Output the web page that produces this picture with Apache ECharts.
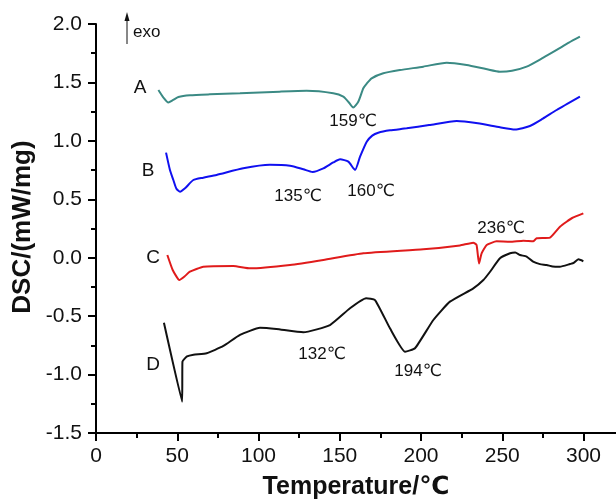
<!DOCTYPE html>
<html>
<head>
<meta charset="utf-8">
<script src="https://cdn.jsdelivr.net/npm/echarts@6/dist/echarts.min.js"></script>
<style>html,body{margin:0;padding:0;background:#fff}#c{width:616px;height:500px}</style>
</head>
<body>
<div id="c"></div>
<script>
// Data (temperature in °C, DSC in mW/mg)
var curveA = [[38.4,1.435],[41.5,1.37],[44.5,1.328],[47.5,1.35],[50.7,1.375],[57.8,1.39],[70,1.398],[88.6,1.407],[113,1.421],[129.6,1.428],[146,1.407],[152.2,1.378],[155.5,1.33],[158.3,1.285],[161.4,1.335],[164.5,1.45],[166.6,1.49],[169.6,1.535],[176.8,1.578],[187,1.606],[201.4,1.635],[215.8,1.669],[228.1,1.649],[240,1.615],[248.6,1.592],[256,1.6],[265,1.635],[275,1.71],[283.5,1.778],[291,1.84],[297.8,1.891]];
var curveB = [[43.1,0.899],[45.5,0.751],[47.6,0.665],[49.5,0.59],[51.7,0.565],[54.8,0.594],[59.9,0.665],[66,0.685],[74.2,0.708],[90.6,0.765],[107,0.795],[119.4,0.787],[127.6,0.757],[133.3,0.734],[139.9,0.765],[146,0.815],[150.2,0.842],[155.3,0.822],[159.4,0.751],[162.5,0.865],[166.6,0.993],[170,1.045],[173.7,1.07],[180.9,1.09],[191.2,1.107],[205,1.135],[222,1.17],[235,1.15],[248.6,1.116],[257.8,1.097],[267,1.127],[275,1.19],[283.5,1.264],[297.8,1.378]];
var curveC = [[43.9,0.023],[47.2,-0.105],[51.3,-0.191],[54.5,-0.16],[57.8,-0.12],[66,-0.077],[84.5,-0.071],[94.8,-0.091],[119.4,-0.062],[139.9,-0.019],[164.5,0.038],[201.4,0.072],[224,0.105],[232.2,0.129],[234.2,0.109],[235.7,-0.05],[237.3,0.038],[240.4,0.109],[246.5,0.14],[254.8,0.137],[263,0.146],[269,0.14],[271.2,0.166],[279.4,0.172],[285.5,0.265],[289.6,0.308],[293,0.34],[299.9,0.38]];
var curveD = [[41.8,-0.556],[53.0,-1.232],[53.2,-0.889],[56,-0.845],[60,-0.83],[68.1,-0.818],[78.4,-0.755],[88.6,-0.661],[100.9,-0.6],[111,-0.61],[127.6,-0.638],[144,-0.576],[156.3,-0.433],[166.2,-0.347],[171.7,-0.362],[180.9,-0.604],[190.2,-0.804],[196.3,-0.775],[207.6,-0.533],[217.8,-0.376],[232.2,-0.262],[238.4,-0.191],[242.5,-0.12],[248.6,-0.005],[254.8,0.038],[258,0.045],[261,0.023],[265,0.01],[269,-0.034],[273.2,-0.055],[277.3,-0.062],[281,-0.075],[285.5,-0.077],[291.7,-0.054],[294,-0.045],[296.8,-0.014],[299.9,-0.03]];
var xMajor = [0,50,100,150,200,250,300];
var xMinor = [25,75,125,175,225,275];
var curveNames = ['A','B','C','D'];
var peakLabels = ['159℃','135℃','160℃','236℃','132℃','194℃'];

var chart = echarts.init(document.getElementById('c'), null, {renderer:'canvas'});
var txt = '#111';
function lineSeries(name, data, color, sm){
  return {name:name, type:'line', data:data, showSymbol:false, symbol:'none',
    smooth:sm, lineStyle:{color:color, width:2}, z:3, animation:false};
}
function t(text, x, y, size, opts){
  return Object.assign({type:'text', x:x, y:y, style:{text:text, fill:txt,
    font:(opts&&opts.bold?'bold ':'')+size+'px "Liberation Sans", Arial, "DejaVu Sans", sans-serif',
    align:'center', verticalAlign:'middle'}}, opts&&opts.extra||{});
}
chart.setOption({
  animation:false,
  backgroundColor:'#fff',
  grid:{left:96, right:0, top:24, bottom:67, containLabel:false},
  xAxis:[{
    type:'value', min:0, max:320, interval:50, position:'bottom',
    axisLine:{show:true, onZero:false, lineStyle:{color:'#000', width:2}},
    axisTick:{show:true, inside:false, length:8, lineStyle:{color:'#000', width:2}, customValues:xMajor},
    axisLabel:{customValues:xMajor, color:txt, fontSize:21, margin:13, fontFamily:'"Liberation Sans", Arial, sans-serif'},
    splitLine:{show:false}
  },{
    type:'value', min:0, max:320, position:'bottom', offset:0,
    axisLine:{show:false, onZero:false},
    axisTick:{show:true, length:5, lineStyle:{color:'#000', width:2}, customValues:xMinor},
    axisLabel:{show:false}, splitLine:{show:false}
  }],
  yAxis:{
    type:'value', min:-1.5, max:2.0, interval:0.5,
    axisLine:{show:true, onZero:false, lineStyle:{color:'#000', width:2}},
    axisTick:{show:true, length:8, lineStyle:{color:'#000', width:2}},
    minorTick:{show:true, splitNumber:2, length:5, lineStyle:{color:'#000', width:2}},
    axisLabel:{color:txt, fontSize:21, margin:14, fontFamily:'"Liberation Sans", Arial, sans-serif',
      formatter:function(v){return v.toFixed(1);}},
    splitLine:{show:false}
  },
  series:[
    lineSeries(curveNames[0], curveA, '#3b8a84', 0.2),
    lineSeries(curveNames[1], curveB, '#1010f0', 0.2),
    lineSeries(curveNames[2], curveC, '#e01b1b', 0.15),
    lineSeries(curveNames[3], curveD, '#111111', 0.15)
  ],
  graphic:[
    t('Temperature/℃', 356, 487, 25, {bold:true}),
    t('DSC/(mW/mg)', 23, 227, 26, {bold:true, extra:{rotation:Math.PI/2}}),
    t(curveNames[0], 140, 88, 19),
    t(curveNames[1], 148, 171, 19),
    t(curveNames[2], 153, 258, 19),
    t(curveNames[3], 153, 365, 19),
    t(peakLabels[0], 353, 121, 17),
    t(peakLabels[1], 298, 196, 17),
    t(peakLabels[2], 371, 191, 17),
    t(peakLabels[3], 501, 228, 17),
    t(peakLabels[4], 322, 354, 17),
    t(peakLabels[5], 418, 371, 17),
    {type:'text', x:133, y:32, style:{text:'exo', fill:txt, font:'17px "Liberation Sans", Arial, sans-serif', align:'left', verticalAlign:'middle'}},
    {type:'line', shape:{x1:127, y1:44, x2:127, y2:18}, style:{stroke:'#111', lineWidth:1}},
    {type:'polygon', shape:{points:[[124.5,21],[129.5,21],[127,12]]}, style:{fill:'#111'}}
  ]
});
</script>
</body>
</html>
